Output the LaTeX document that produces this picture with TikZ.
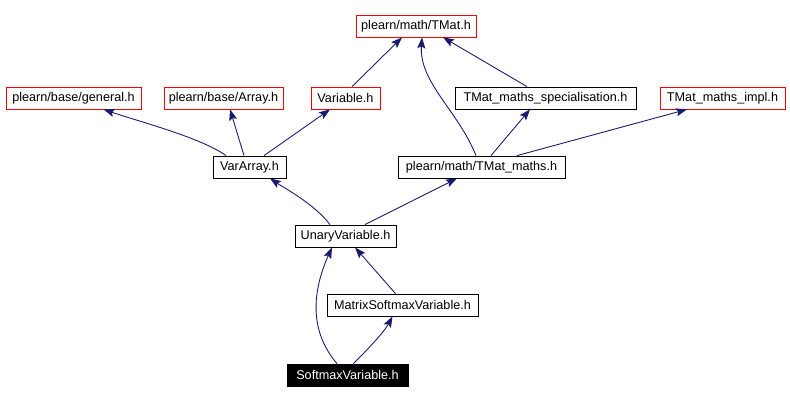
\documentclass[tikz,border=0pt]{standalone}
\usepackage{fontspec}
\setmainfont{Liberation Sans}
\usetikzlibrary{arrows.meta,calc}
\definecolor{edgeblue}{HTML}{191970}

\begin{document}
\begin{tikzpicture}[x=0.02cm,y=-0.02cm,
 every node/.style={font=\fontsize{7.2}{8}\selectfont,inner sep=0pt,minimum height=0.44cm,line width=0.45pt},
 rbox/.style={draw=red},
 bbox/.style={draw=black},
 cur/.style={draw=black,fill=black,text=white},
 arr/.style={-{Stealth[length=2.2mm,width=1.6mm,inset=0.4mm]},draw=edgeblue,fill=none,line width=0.5pt}]
\useasboundingbox (0,0) rectangle (790,401);
\node[rbox,minimum width=2.4cm] (tmat) at (416,26) {plearn/math/TMat.h};
\node[rbox,minimum width=2.7cm] (general) at (73.5,98) {plearn/base/general.h};
\node[rbox,minimum width=2.38cm] (array) at (223.5,98) {plearn/base/Array.h};
\node[rbox,minimum width=1.38cm] (variable) at (345.5,98) {Variable.h};
\node[bbox,minimum width=3.62cm] (spec) at (545.5,98) {TMat\_maths\_specialisation.h};
\node[rbox,minimum width=2.5cm] (impl) at (722.5,98) {TMat\_maths\_impl.h};
\node[bbox,minimum width=1.46cm] (vararray) at (249.5,167) {VarArray.h};
\node[bbox,minimum width=3.34cm] (tmaths) at (481.5,167) {plearn/math/TMat\_maths.h};
\node[bbox,minimum width=2.02cm] (unary) at (345.5,236) {UnaryVariable.h};
\node[bbox,minimum width=3.02cm] (msoft) at (402.5,305) {MatrixSoftmaxVariable.h};
\node[cur,minimum width=2.42cm] (soft) at (347.5,375) {SoftmaxVariable.h};
\draw[arr] ($(vararray.north)+(-23.5,0)$) .. controls +(-25,-18) and +(35,12) .. ($(general.south)+(30,0)$);
\draw[arr] ($(vararray.north)+(-5.5,0)$) -- ($(array.south)+(6.5,0)$);
\draw[arr] ($(vararray.north)+(14.5,0)$) -- ($(variable.south)+(-15.5,0)$);
\draw[arr] ($(variable.north)+(6.5,0)$) -- ($(tmat.south)+(-14,0)$);
\draw[arr] ($(tmaths.north)+(-5.5,0)$) .. controls +(-18,-45) and +(-3,45) .. ($(tmat.south)+(6,0)$);
\draw[arr] ($(tmaths.north)+(9.5,0)$) -- ($(spec.south)+(-15.5,0)$);
\draw[arr] ($(tmaths.north)+(35.5,0)$) -- ($(impl.south)+(-35.5,0)$);
\draw[arr] ($(spec.north)+(-18.5,0)$) -- ($(tmat.south)+(27,0)$);
\draw[arr] ($(unary.north)+(-15.5,0)$) .. controls +(-15,-20) and +(15,10) .. ($(vararray.south)+(20.5,0)$);
\draw[arr] ($(unary.north)+(19.5,0)$) -- ($(tmaths.south)+(-24.5,0)$);
\draw[arr] ($(msoft.north)+(-7,0)$) -- ($(unary.south)+(9.5,0)$);
\draw[arr] ($(soft.north)+(-10.5,0)$) .. controls +(-30,-35) and +(-18,40) .. ($(unary.south)+(-13.5,0)$);
\draw[arr] ($(soft.north)+(6,0)$) .. controls +(15,-15) and +(-8,15) .. ($(msoft.south)+(-10,0)$);
\end{tikzpicture}
\end{document}
